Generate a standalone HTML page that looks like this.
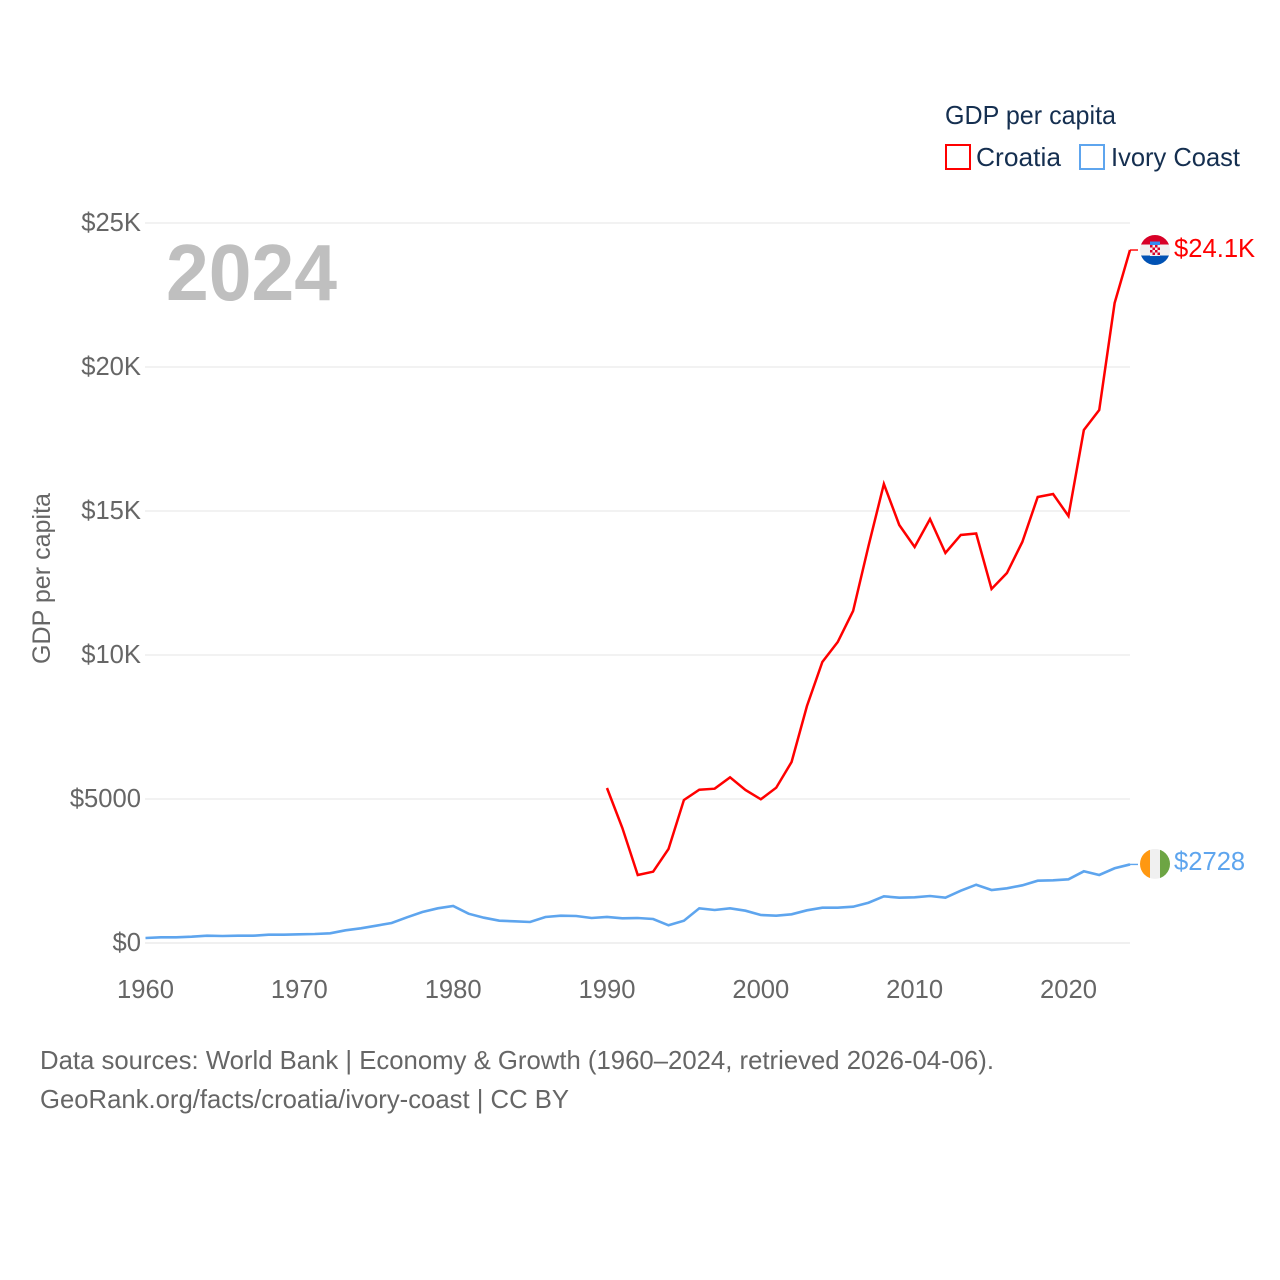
<!DOCTYPE html>
<html lang="en">
<head>
<meta charset="utf-8">
<title>GDP per capita: Croatia and Ivory Coast</title>
<style>
html,body{margin:0;padding:0;background:#fff;}
svg{display:block;}
text{font-family:"Liberation Sans",sans-serif;}
</style>
</head>
<body>
<svg id="chart" xmlns="http://www.w3.org/2000/svg" width="1280" height="1280" viewBox="0 0 1280 1280">
  <rect width="1280" height="1280" fill="#fff"/>
  <g id="grid"></g>
  <g id="yticks"></g>
  <g id="xticks"></g>
  <text x="166" y="300" font-size="80" font-weight="700" fill="#bfbfbf" textLength="171" lengthAdjust="spacingAndGlyphs">2024</text>
  <text transform="translate(50,664) rotate(-90)" font-size="25" fill="#666" textLength="171" lengthAdjust="spacingAndGlyphs">GDP per capita</text>
  <g id="series"></g>

  <g id="flag-hr">
    <clipPath id="clip-hr"><circle cx="0" cy="0" r="15"/></clipPath>
    <g clip-path="url(#clip-hr)">
      <rect x="-15" y="-15" width="30" height="30" fill="#f0f0f0"/>
      <rect x="-15" y="-15" width="30" height="9.5" fill="#d80027"/>
      <rect x="-15" y="5.5" width="30" height="9.5" fill="#0052b4"/>
      <rect x="-5" y="-8.5" width="10" height="3.5" fill="#338af3"/>
      <rect x="-5" y="-5" width="10" height="11" fill="#f0f0f0"/>
      <rect x="-5" y="-5" width="2.5" height="2.5" fill="#d80027"/>
      <rect x="0" y="-5" width="2.5" height="2.5" fill="#d80027"/>
      <rect x="-2.5" y="-2.5" width="2.5" height="2.5" fill="#d80027"/>
      <rect x="2.5" y="-2.5" width="2.5" height="2.5" fill="#d80027"/>
      <rect x="-5" y="0" width="2.5" height="2.5" fill="#d80027"/>
      <rect x="0" y="0" width="2.5" height="2.5" fill="#d80027"/>
      <rect x="-2.5" y="2.5" width="2.5" height="2.5" fill="#d80027"/>
      <rect x="2.5" y="2.5" width="2.5" height="2.5" fill="#d80027"/>
    </g>
  </g>
  <g id="flag-ci">
    <clipPath id="clip-ci"><circle cx="0" cy="0" r="15"/></clipPath>
    <g clip-path="url(#clip-ci)">
      <rect x="-15" y="-15" width="30" height="30" fill="#f0f0f0"/>
      <rect x="-15" y="-15" width="10" height="30" fill="#ff9811"/>
      <rect x="5" y="-15" width="10" height="30" fill="#6da544"/>
    </g>
  </g>
  <text id="label-hr" x="1174" font-size="25.6" fill="#ff0000"></text>
  <text id="label-ci" x="1174" font-size="25.6" fill="#5ea5ee"></text>

  <g>
    <text x="945" y="124" font-size="26" fill="#152f50" textLength="171" lengthAdjust="spacingAndGlyphs">GDP per capita</text>
    <rect x="946" y="145" width="24" height="24" fill="none" stroke="#ff0000" stroke-width="2"/>
    <text x="976" y="166" font-size="26" fill="#152f50" textLength="85" lengthAdjust="spacingAndGlyphs">Croatia</text>
    <rect x="1080" y="145" width="24" height="24" fill="none" stroke="#5ea5ee" stroke-width="2"/>
    <text x="1111" y="166" font-size="26" fill="#152f50" textLength="129" lengthAdjust="spacingAndGlyphs">Ivory Coast</text>
  </g>

  <text x="40" y="1069" font-size="25.6" fill="#666" textLength="954" lengthAdjust="spacingAndGlyphs">Data sources: World Bank | Economy &amp; Growth (1960–2024, retrieved 2026-04-06).</text>
  <text x="40" y="1108" font-size="25.6" fill="#666" textLength="529" lengthAdjust="spacingAndGlyphs">GeoRank.org/facts/croatia/ivory-coast | CC BY</text>
</svg>
<script>
const yTicks = [0, 5000, 10000, 15000, 20000, 25000];
const yTickLabels = ["$0", "$5000", "$10K", "$15K", "$20K", "$25K"];
const xTicks = [1960, 1970, 1980, 1990, 2000, 2010, 2020];
const croatiaStartYear = 1990;
const croatiaValues = [5382, 3993, 2361, 2476, 3264, 4965, 5323, 5358, 5753, 5313, 4990, 5392, 6285, 8229, 9757, 10451, 11528, 13785, 15937, 14514, 13750, 14722, 13542, 14167, 14219, 12292, 12847, 13924, 15486, 15590, 14826, 17812, 18507, 22222, 24062];
const ivoryStartYear = 1960;
const ivoryValues = [174, 198, 198, 219, 253, 243, 253, 253, 288, 288, 302, 312, 337, 441, 510, 601, 694, 892, 1076, 1205, 1285, 1017, 878, 774, 753, 729, 903, 948, 938, 868, 903, 858, 868, 833, 615, 774, 1205, 1146, 1205, 1122, 972, 948, 997, 1135, 1226, 1226, 1260, 1399, 1622, 1573, 1587, 1632, 1573, 1816, 2024, 1840, 1899, 2003, 2163, 2177, 2212, 2490, 2361, 2594, 2728];

const SVG_NS = "http://www.w3.org/2000/svg";
const xScale = function (year) { return 145.5 + (year - 1960) * (984.5 / 64); };
const yScale = function (value) { return 943 - value * (720 / 25000); };

function make(tag, parent, attrs, text) {
  const el = document.createElementNS(SVG_NS, tag);
  Object.keys(attrs).forEach(function (k) { el.setAttribute(k, attrs[k]); });
  if (text !== undefined) el.textContent = text;
  parent.appendChild(el);
  return el;
}

const gridGroup = document.getElementById("grid");
const yTickGroup = document.getElementById("yticks");
yTicks.forEach(function (v, i) {
  const line = make("line", gridGroup, { x1: 145, x2: 1130, y1: yScale(v), y2: yScale(v), stroke: "#ebebeb", "stroke-width": i === 0 ? 1.6 : 1.2 });
  
  
  const label = make("text", yTickGroup, { x: 141, y: yScale(v) + 8, "text-anchor": "end", "font-size": 25.6, fill: "#666" }, yTickLabels[i]);
  
  
});

const xTickGroup = document.getElementById("xticks");
xTicks.forEach(function (year) {
  const label = make("text", xTickGroup, { x: xScale(year), y: 998, "text-anchor": "middle", "font-size": 25.6, fill: "#666" }, String(year));
  
  
});

function linePoints(startYear, values) {
  return values.map(function (v, i) {
    return xScale(startYear + i).toFixed(2) + "," + yScale(v).toFixed(2);
  });
}

function formatValue(v) {
  return v >= 10000 ? "$" + (v / 1000).toFixed(1) + "K" : "$" + Math.round(v);
}

const seriesGroup = document.getElementById("series");

const croatiaEndY = yScale(croatiaValues[croatiaValues.length - 1]);
const croatiaEndX = xScale(croatiaStartYear + croatiaValues.length - 1);
const croatiaLine = make("polyline", seriesGroup, { points: linePoints(croatiaStartYear, croatiaValues).join(" "), fill: "none", stroke: "#ff0000", "stroke-width": 2.5, "stroke-linejoin": "miter" });


const croatiaLeader = make("line", seriesGroup, { x1: croatiaEndX, x2: 1138, y1: croatiaEndY, y2: croatiaEndY, stroke: "#ff0000", "stroke-width": 1.4 });



const ivoryEndY = yScale(ivoryValues[ivoryValues.length - 1]);
const ivoryEndX = xScale(ivoryStartYear + ivoryValues.length - 1);
const ivoryLine = make("polyline", seriesGroup, { points: linePoints(ivoryStartYear, ivoryValues).join(" "), fill: "none", stroke: "#5ea5ee", "stroke-width": 2.6, "stroke-linejoin": "miter" });


const ivoryLeader = make("line", seriesGroup, { x1: ivoryEndX, x2: 1138, y1: ivoryEndY, y2: ivoryEndY, stroke: "#5ea5ee", "stroke-width": 1.4 });



document.getElementById("flag-hr").setAttribute("transform", "translate(1155," + croatiaEndY + ")");
document.getElementById("flag-ci").setAttribute("transform", "translate(1155," + (ivoryEndY - 0.5) + ")");

const labelHr = document.getElementById("label-hr");
labelHr.setAttribute("y", croatiaEndY + 7);
labelHr.textContent = formatValue(croatiaValues[croatiaValues.length - 1]);
const labelCi = document.getElementById("label-ci");
labelCi.setAttribute("y", ivoryEndY + 5.5);
labelCi.textContent = formatValue(ivoryValues[ivoryValues.length - 1]);
</script>
</body>
</html>
